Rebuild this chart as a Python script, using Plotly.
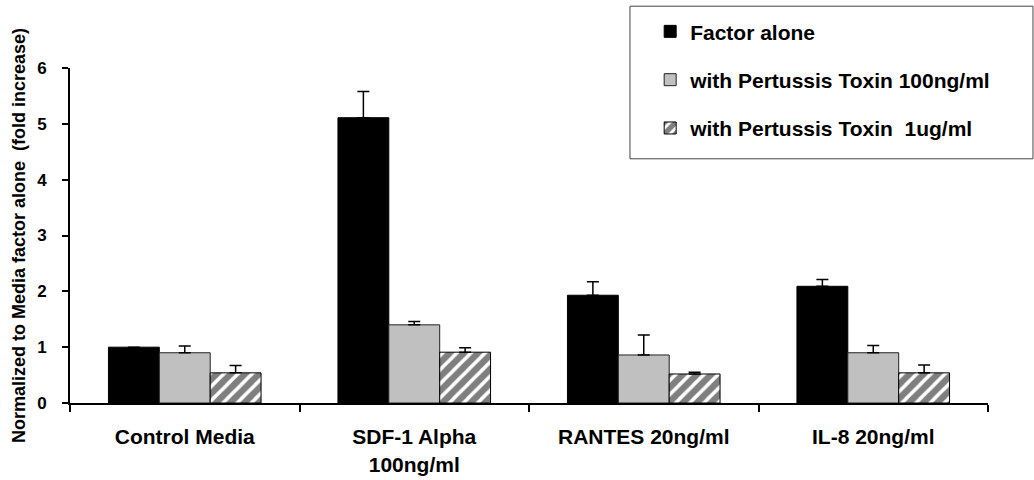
import plotly.graph_objects as go

categories = ["Control Media", "SDF-1 Alpha<br>100ng/ml", "RANTES 20ng/ml", "IL-8 20ng/ml"]
series_names = ["Factor alone", "with Pertussis Toxin 100ng/ml", "with Pertussis Toxin  1ug/ml"]
factor_alone = [1.0, 5.11, 1.93, 2.09]
factor_alone_err = [0.0, 0.47, 0.24, 0.12]
ptx_100ng = [0.90, 1.40, 0.86, 0.90]
ptx_100ng_err = [0.12, 0.06, 0.36, 0.13]
ptx_1ug = [0.54, 0.91, 0.52, 0.54]
ptx_1ug_err = [0.13, 0.08, 0.03, 0.14]
y_ticks = [0, 1, 2, 3, 4, 5, 6]

FONT = "Arial, Liberation Sans, Helvetica, sans-serif"

def err(arr):
    return dict(type="data", array=arr, arrayminus=[0] * len(arr), symmetric=False,
                color="black", thickness=1.5, width=6, visible=True)

fig = go.Figure()
fig.add_trace(go.Bar(
    name=series_names[0], x=categories, y=factor_alone, error_y=err(factor_alone_err),
    marker=dict(color="black", line=dict(color="black", width=1)), legendgroup="a"))
fig.add_trace(go.Bar(
    name=series_names[1], x=categories, y=ptx_100ng, error_y=err(ptx_100ng_err),
    marker=dict(color="#c0c0c0", line=dict(color="#222222", width=1)), legendgroup="b"))
fig.add_trace(go.Bar(
    name=series_names[2], x=categories, y=ptx_1ug, error_y=err(ptx_1ug_err),
    marker=dict(color="white", line=dict(color="black", width=1),
                pattern=dict(shape="/", fgcolor="black", bgcolor="white", size=10, solidity=0.65)),
    legendgroup="c"))

fig.update_layout(
    width=1034, height=480,
    margin=dict(l=70, r=46, t=67, b=77),
    paper_bgcolor="white", plot_bgcolor="white",
    barmode="group", bargap=0.335, bargroupgap=0,
    font=dict(family=FONT, color="black", weight="bold"),
    showlegend=True,
    legend=dict(x=0.632, y=1.166, xanchor="left", yanchor="top",
                font=dict(family=FONT, size=21, color="black", weight="bold"),
                bgcolor="rgba(0,0,0,0)", borderwidth=0,
                traceorder="grouped", tracegroupgap=18, itemwidth=30),
    shapes=[dict(type="rect", xref="paper", yref="paper",
                 x0=0.610, x1=1.049, y0=0.729, y1=1.1845,
                 line=dict(color="#444444", width=1), fillcolor="white", layer="below")],
    xaxis=dict(type="category", showline=True, linecolor="black", linewidth=2,
               ticks="outside", tickson="boundaries", ticklen=7, tickwidth=2, tickcolor="black",
               tickfont=dict(family=FONT, size=21, color="black", weight="bold"),
               ticklabelstandoff=14, automargin=False,
               showgrid=False, zeroline=False),
    yaxis=dict(range=[0, 6], tickvals=y_ticks, showline=True, linecolor="black", linewidth=2,
               ticks="outside", ticklen=6, tickwidth=2, tickcolor="black",
               tickfont=dict(family=FONT, size=17, color="black", weight="bold"),
               ticklabelstandoff=12, automargin=False,
               showgrid=False, zeroline=False,
               title=dict(text="Normalized to Media factor alone  (fold increase)",
                          font=dict(family=FONT, size=18, color="black", weight="bold"),
                          standoff=7)),
)

fig.write_html("out.html")
